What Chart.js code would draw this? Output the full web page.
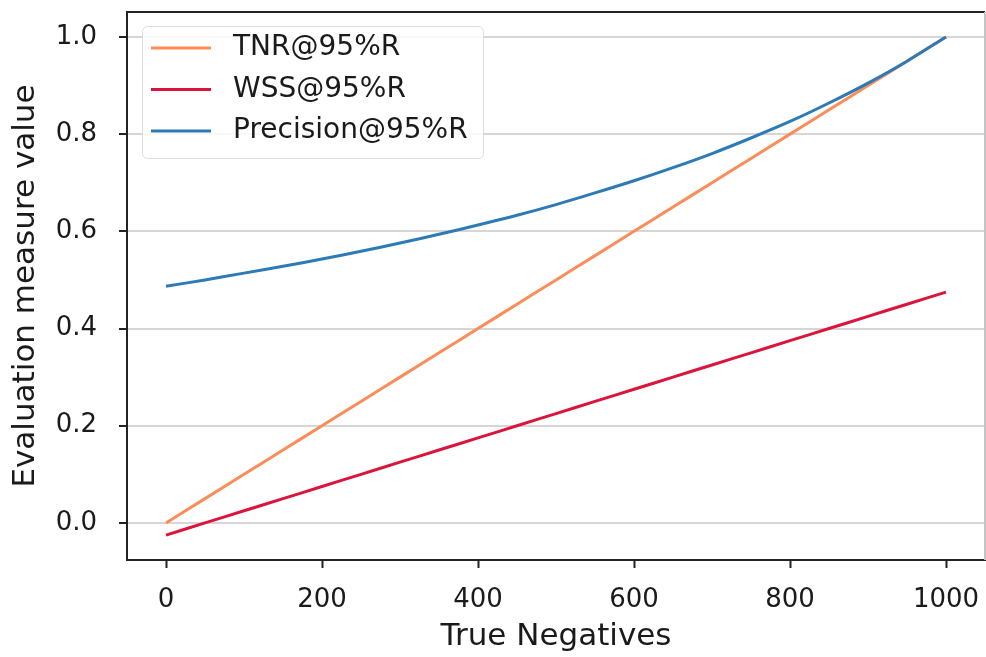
<!DOCTYPE html>
<html lang="en">
<head>
  <meta charset="UTF-8">
  <title>Evaluation measures vs true negatives</title>
  <script src="https://cdn.jsdelivr.net/npm/chart.js"></script>
  <style>
    body {
      margin: 0;
      background: #fff;
    }
    #wrap {
      width: 986px;
      height: 657px;
      position: relative;
    }
  </style>
</head>
<body>
  <div id="wrap"><canvas id="measureChart"></canvas></div>

  <script>
    // true negatives on the x axis
    const trueNegatives = [0, 50, 100, 150, 200, 250, 300, 350, 400, 450, 500,
      550, 600, 650, 700, 750, 800, 850, 900, 950, 1000];
    const tnrValues = [0.0, 0.05, 0.10, 0.15, 0.20, 0.25, 0.30, 0.35, 0.40, 0.45, 0.50,
      0.55, 0.60, 0.65, 0.70, 0.75, 0.80, 0.85, 0.90, 0.95, 1.0];
    const wssValues = [-0.025, 0.0, 0.025, 0.05, 0.075, 0.10, 0.125, 0.15, 0.175, 0.20, 0.225,
      0.25, 0.275, 0.30, 0.325, 0.35, 0.375, 0.40, 0.425, 0.45, 0.475];
    const precisionValues = [0.487, 0.500, 0.514, 0.528, 0.543, 0.559, 0.576, 0.594, 0.613, 0.633, 0.655,
      0.679, 0.704, 0.731, 0.760, 0.792, 0.826, 0.864, 0.905, 0.950, 1.0];
    const seriesLabels = ["TNR@95%R", "WSS@95%R", "Precision@95%R"];
    const xTicks = [0, 200, 400, 600, 800, 1000];
    const yTicks = [0.0, 0.2, 0.4, 0.6, 0.8, 1.0];

    const colors = ["#fc8d59", "#dc143c", "#2c7bb6"];
    const dark = "#222222";

    function toPoints(values) {
      return trueNegatives.map((x, i) => ({ x: x, y: values[i] }));
    }

    // top + right spines (chart.js only draws left/bottom borders)
    const framePlugin = {
      id: "frame",
      afterDraw(chart) {
        const { ctx, chartArea: a } = chart;
        ctx.save();
        ctx.lineWidth = 2;
        ctx.strokeStyle = dark;
        ctx.beginPath();
        ctx.moveTo(a.left, a.top);
        ctx.lineTo(a.right, a.top);
        ctx.stroke();
        ctx.strokeStyle = "#c4c4c4";
        ctx.beginPath();
        ctx.moveTo(a.right, a.top);
        ctx.lineTo(a.right, a.bottom);
        ctx.stroke();
        ctx.restore();
      }
    };

    // legend box inside the plot, upper left
    const insideLegend = {
      id: "insideLegend",
      afterDatasetsDraw(chart) {
        const { ctx } = chart;
        const x0 = 142, y0 = 26, w = 341, h = 132;
        ctx.save();
        ctx.fillStyle = "rgba(255,255,255,0.85)";
        ctx.strokeStyle = "#dcdcdc";
        ctx.lineWidth = 1;
        ctx.beginPath();
        ctx.roundRect(x0 + 0.5, y0 + 0.5, w, h, 5);
        ctx.fill();
        ctx.stroke();
        ctx.font = "28px 'DejaVu Sans'";
        ctx.textBaseline = "middle";
        ctx.textAlign = "left";
        chart.data.datasets.forEach((ds, i) => {
          const cy = y0 + 22 + i * 41.5;
          ctx.strokeStyle = ds.borderColor;
          ctx.lineWidth = 3;
          ctx.beginPath();
          ctx.moveTo(x0 + 9, cy);
          ctx.lineTo(x0 + 69, cy);
          ctx.stroke();
          ctx.fillStyle = "#1a1a1a";
          ctx.fillText(ds.label, x0 + 91, cy);
        });
        ctx.restore();
      }
    };

    Chart.defaults.font.family = "'DejaVu Sans', sans-serif";
    Chart.defaults.color = "#1a1a1a";

    const ctx = document.getElementById("measureChart").getContext("2d");
    new Chart(ctx, {
      type: "line",
      data: {
        datasets: [
          { label: seriesLabels[0], data: toPoints(tnrValues), borderColor: colors[0], order: 3 },
          { label: seriesLabels[1], data: toPoints(wssValues), borderColor: colors[1], order: 2 },
          { label: seriesLabels[2], data: toPoints(precisionValues), borderColor: colors[2], order: 1 }
        ]
      },
      options: {
        responsive: true,
        maintainAspectRatio: false,
        animation: false,
        layout: { padding: { top: 12, right: 1, left: 0, bottom: 0 } },
        elements: {
          point: { radius: 0 },
          line: { borderWidth: 3, tension: 0.3, fill: false }
        },
        plugins: {
          legend: { display: false },
          tooltip: { enabled: false }
        },
        scales: {
          x: {
            type: "linear",
            min: -50,
            max: 1050,
            afterBuildTicks: (scale) => { scale.ticks = xTicks.map(v => ({ value: v })); },
            afterFit: (scale) => {
              scale.height = 97;
              scale.paddingLeft = 0;
              scale.paddingRight = 0;
            },
            ticks: {
              font: { size: 26 },
              padding: 17,
              maxRotation: 0,
              callback: (v) => String(v)
            },
            grid: {
              drawOnChartArea: false,
              color: "transparent",
              tickColor: dark,
              tickWidth: 2,
              tickLength: 8
            },
            border: { color: dark, width: 2 },
            title: {
              display: true,
              text: "True Negatives",
              font: { size: 31 },
              padding: { top: 0, bottom: 1 }
            }
          },
          y: {
            min: -0.07625,
            max: 1.05125,
            afterBuildTicks: (scale) => { scale.ticks = yTicks.map(v => ({ value: v })); },
            afterFit: (scale) => {
              scale.width = 127;
              scale.paddingTop = 0;
              scale.paddingBottom = 0;
            },
            ticks: {
              font: { size: 26 },
              padding: 22,
              callback: (v) => v.toFixed(1)
            },
            grid: {
              color: "#d6d6d6",
              lineWidth: 2,
              tickColor: dark,
              tickWidth: 2,
              tickLength: 8
            },
            border: { color: dark, width: 2 },
            title: {
              display: true,
              text: "Evaluation measure value",
              font: { size: 31 },
              padding: { top: 7, bottom: 0 }
            }
          }
        }
      },
      plugins: [framePlugin, insideLegend]
    });
  </script>
</body>
</html>
